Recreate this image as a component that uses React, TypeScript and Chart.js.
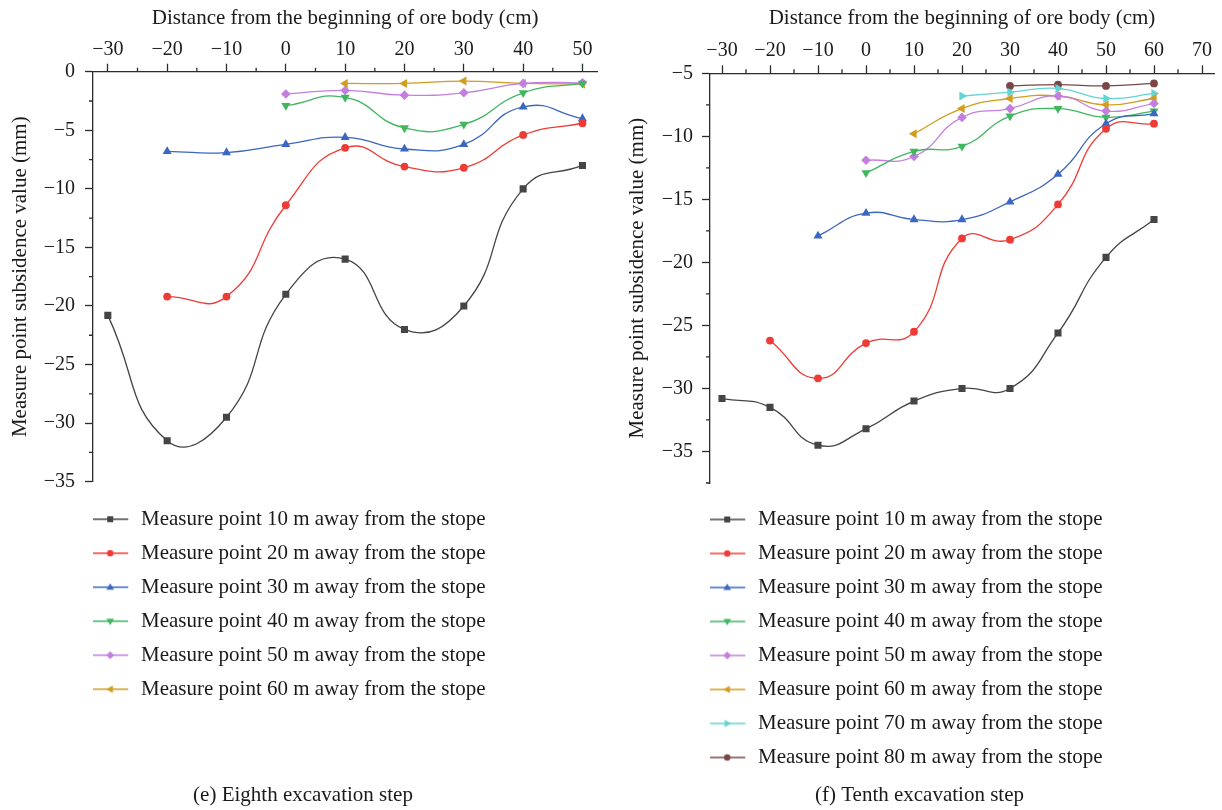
import React, { useEffect, useRef } from 'react';
import { Chart, registerables } from 'chart.js';

Chart.register(...registerables);

const FONT = "'Liberation Serif', 'Times New Roman', serif";
const TEXT = '#1a1a1a';
const AXIS = '#2b2b2b';

// ---------- series meta ----------
const seriesLabels = [
  'Measure point 10 m away from the stope',
  'Measure point 20 m away from the stope',
  'Measure point 30 m away from the stope',
  'Measure point 40 m away from the stope',
  'Measure point 50 m away from the stope',
  'Measure point 60 m away from the stope',
  'Measure point 70 m away from the stope',
  'Measure point 80 m away from the stope',
];
const seriesColors = ['#454545', '#ef3b36', '#3b66c2', '#40b65f', '#c27fe0', '#d29c1f', '#63d3d3', '#7b4646'];
const seriesPointStyles = ['rect', 'circle', 'triangle', 'triangle', 'rectRot', 'triangle', 'triangle', 'circle'];
const seriesRotations = [0, 0, 0, 180, 0, 270, 90, 0];
const seriesRadii = [5, 3.9, 5.2, 5.2, 4.8, 5.2, 5.2, 3.9];

// ---------- (e) Eighth excavation step ----------
const xE = [-30, -20, -10, 0, 10, 20, 30, 40, 50];
const e10 = [-20.8, -31.5, -29.5, -19.0, -16.0, -22.0, -20.0, -10.0, -8.0];
const e20 = [null, -19.2, -19.2, -11.4, -6.5, -8.1, -8.2, -5.4, -4.4];
const e30 = [null, -6.8, -6.9, -6.2, -5.6, -6.6, -6.2, -3.0, -4.0];
const e40 = [null, null, null, -2.9, -2.2, -4.8, -4.5, -1.8, -1.0];
const e50 = [null, null, null, -1.9, -1.6, -2.0, -1.8, -1.0, -0.95];
const e60 = [null, null, null, null, -1.0, -1.0, -0.8, -1.0, -1.05];
const xTicksE = [-30, -20, -10, 0, 10, 20, 30, 40, 50];
const yTicksE = [0, -5, -10, -15, -20, -25, -30, -35];

// ---------- (f) Tenth excavation step ----------
const xF = [-30, -20, -10, 0, 10, 20, 30, 40, 50, 60];
const f10 = [-30.8, -31.5, -34.5, -33.2, -31.0, -30.0, -30.0, -25.6, -19.6, -16.6];
const f20 = [null, -26.2, -29.2, -26.4, -25.5, -18.1, -18.2, -15.4, -9.4, -9.0];
const f30 = [null, null, -17.9, -16.1, -16.6, -16.6, -15.2, -13.0, -9.0, -8.2];
const f40 = [null, null, null, -12.9, -11.2, -10.8, -8.4, -7.8, -8.5, -8.0];
const f50 = [null, null, null, -11.9, -11.6, -8.5, -7.8, -6.8, -8.0, -7.4];
const f60 = [null, null, null, null, -9.8, -7.8, -7.0, -6.8, -7.5, -7.0];
const f70 = [null, null, null, null, null, -6.8, -6.5, -6.2, -7.0, -6.6];
const f80 = [null, null, null, null, null, null, -6.0, -5.9, -6.0, -5.8];
const xTicksF = [-30, -20, -10, 0, 10, 20, 30, 40, 50, 60, 70];
const yTicksF = [-5, -10, -15, -20, -25, -30, -35];

const xTitle = 'Distance from the beginning of ore body (cm)';
const yTitle = 'Measure point subsidence value (mm)';

type Panel = {
  left: number;
  xs: number[];
  series: (number | null)[][];
  xTicks: number[];
  yTicks: number[];
  xMin: number; xMax: number; yMin: number; yMax: number;
  xMinorStep: number; yMinorStep: number;
  caption: string;
  padL: number; padR: number; yWidth: number; xHeight: number;
  xTickPad: number; yTickPad: number; legendGap: number;
  capTop: number; capBottom: number; yTitlePad: number; xTitlePad: number;
};

const panels: Panel[] = [
  {
    left: 0, xs: xE, series: [e10, e20, e30, e40, e50, e60], xTicks: xTicksE, yTicks: yTicksE,
    xMin: -32.5, xMax: 52.5, yMin: -35, yMax: 0, xMinorStep: 5, yMinorStep: 2.5,
    caption: '(e) Eighth excavation step',
    padL: 8.7, padR: 13.7, yWidth: 84.3, xHeight: 71.7, xTickPad: 1.5, yTickPad: 10, legendGap: 14,
    capTop: 72.7, capBottom: 2.4, yTitlePad: 1, xTitlePad: 5.5,
  },
  {
    left: 611, xs: xF, series: [f10, f20, f30, f40, f50, f60, f70, f80], xTicks: xTicksF, yTicks: yTicksF,
    xMin: -32.5, xMax: 72.5, yMin: -37.5, yMax: -5, xMinorStep: 5, yMinorStep: 2.5,
    caption: '(f) Tenth excavation step',
    padL: 14, padR: 8, yWidth: 85, xHeight: 73.3, xTickPad: 3, yTickPad: 9, legendGap: 13,
    capTop: 4.4, capBottom: 2.4, yTitlePad: 1.5, xTitlePad: 6,
  },
];

const fmt = (v: number) => (v < 0 ? '\u2212' + Math.abs(v) : String(v));

function makeLegendImage(color: string, style: string, rotation: number): HTMLCanvasElement {
  const c = document.createElement('canvas');
  c.width = 52;
  c.height = 16;
  const g = c.getContext('2d')!;
  g.strokeStyle = color;
  g.lineWidth = 1.3;
  g.beginPath();
  g.moveTo(0, 8);
  g.lineTo(36, 8);
  g.stroke();
  g.fillStyle = color;
  g.save();
  g.translate(18, 8);
  g.rotate((rotation * Math.PI) / 180);
  g.beginPath();
  if (style === 'rect') g.rect(-3, -3, 6, 6);
  else if (style === 'circle') g.arc(0, 0, 3.2, 0, Math.PI * 2);
  else if (style === 'triangle') {
    g.moveTo(0, -4);
    g.lineTo(3.8, 2.6);
    g.lineTo(-3.8, 2.6);
    g.closePath();
  } else {
    g.moveTo(0, -4);
    g.lineTo(4, 0);
    g.lineTo(0, 4);
    g.lineTo(-4, 0);
    g.closePath();
  }
  g.fill();
  g.restore();
  return c;
}

function buildConfig(p: Panel): any {
  const datasets = p.series.map((vals, i) => ({
    label: seriesLabels[i],
    data: p.xs
      .map((x, j) => ({ x, y: vals[j] }))
      .filter((pt) => pt.y !== null),
    borderColor: seriesColors[i],
    backgroundColor: seriesColors[i],
    pointBackgroundColor: seriesColors[i],
    pointBorderWidth: 0,
    pointStyle: seriesPointStyles[i],
    rotation: seriesRotations[i],
    pointRadius: seriesRadii[i],
    borderWidth: 1.3,
    tension: 0.5,
    cubicInterpolationMode: 'default',
    fill: false,
  }));

  const legendImages = p.series.map((_, i) =>
    makeLegendImage(seriesColors[i], seriesPointStyles[i], seriesRotations[i])
  );

  const minorTicks = {
    id: 'minorTicks',
    afterDraw(chart: any) {
      const ctx = chart.ctx;
      const xs = chart.scales.x;
      const ys = chart.scales.y;
      const area = chart.chartArea;
      ctx.save();
      ctx.strokeStyle = AXIS;
      ctx.lineWidth = 1.3;
      ctx.beginPath();
      const x0 = Math.ceil(p.xMin / p.xMinorStep) * p.xMinorStep;
      for (let v = x0; v <= p.xMax + 1e-9; v += p.xMinorStep) {
        if (Math.abs(v % 10) < 1e-9) continue;
        const px = xs.getPixelForValue(v);
        ctx.moveTo(px, area.top);
        ctx.lineTo(px, area.top - 4);
      }
      const y0 = Math.ceil(p.yMin / p.yMinorStep) * p.yMinorStep;
      for (let v = y0; v <= p.yMax + 1e-9; v += p.yMinorStep) {
        if (Math.abs(v % 5) < 1e-9) continue;
        const py = ys.getPixelForValue(v);
        ctx.moveTo(area.left, py);
        ctx.lineTo(area.left - 4, py);
      }
      ctx.stroke();
      ctx.restore();
    },
  };

  return {
    type: 'line',
    data: { datasets },
    plugins: [minorTicks],
    options: {
      animation: false,
      responsive: false,
      maintainAspectRatio: false,
      color: TEXT,
      layout: { padding: { left: p.padL, right: p.padR, top: 0, bottom: 0 } },
      plugins: {
        tooltip: { enabled: false },
        legend: {
          display: true,
          position: 'bottom',
          align: 'start',
          fullSize: false,
          title: { display: true, text: '', padding: 0, font: { size: p.legendGap, lineHeight: 1 } },
          labels: {
            usePointStyle: true,
            pointStyleWidth: 24.5,
            padding: 13,
            color: TEXT,
            font: { family: FONT, size: 21 },
            generateLabels: (chart: any) =>
              chart.data.datasets.map((ds: any, i: number) => ({
                text: ds.label,
                pointStyle: legendImages[i],
                fillStyle: ds.borderColor,
                strokeStyle: ds.borderColor,
                fontColor: TEXT,
                lineWidth: 0,
                hidden: false,
                datasetIndex: i,
              })),
          },
        },
        title: {
          display: true,
          position: 'bottom',
          text: p.caption,
          color: TEXT,
          font: { family: FONT, size: 21, weight: 'normal', lineHeight: 1.2 },
          padding: { top: p.capTop, bottom: p.capBottom },
        },
      },
      scales: {
        x: {
          type: 'linear',
          position: 'top',
          min: p.xMin,
          max: p.xMax,
          afterBuildTicks: (s: any) => {
            s.ticks = p.xTicks.map((v) => ({ value: v }));
          },
          afterFit: (s: any) => {
            s.height = p.xHeight;
          },
          ticks: {
            callback: (v: any) => fmt(Number(v)),
            color: TEXT,
            font: { family: FONT, size: 20 },
            padding: p.xTickPad,
            maxRotation: 0,
            autoSkip: false,
          },
          grid: {
            drawOnChartArea: false,
            drawTicks: true,
            tickLength: 8,
            tickWidth: 1.3,
            tickColor: AXIS,
            color: AXIS,
          },
          border: { display: true, color: AXIS, width: 1.3 },
          title: {
            display: true,
            text: xTitle,
            color: TEXT,
            font: { family: FONT, size: 21, lineHeight: 1.2 },
            padding: { top: p.xTitlePad, bottom: 0 },
          },
        },
        y: {
          type: 'linear',
          position: 'left',
          min: p.yMin,
          max: p.yMax,
          afterBuildTicks: (s: any) => {
            s.ticks = p.yTicks.map((v) => ({ value: v }));
          },
          afterFit: (s: any) => {
            s.width = p.yWidth;
          },
          ticks: {
            callback: (v: any) => fmt(Number(v)),
            color: TEXT,
            font: { family: FONT, size: 20 },
            padding: p.yTickPad,
            autoSkip: false,
          },
          grid: {
            drawOnChartArea: false,
            drawTicks: true,
            tickLength: 8,
            tickWidth: 1.3,
            tickColor: AXIS,
            color: AXIS,
          },
          border: { display: true, color: AXIS, width: 1.3 },
          title: {
            display: true,
            text: yTitle,
            color: TEXT,
            font: { family: FONT, size: 21, lineHeight: 1 },
            padding: { top: p.yTitlePad, bottom: 0 },
          },
        },
      },
    },
  };
}

function PanelChart({ panel }: { panel: Panel }) {
  const ref = useRef<HTMLCanvasElement | null>(null);
  useEffect(() => {
    if (!ref.current) return;
    const chart = new Chart(ref.current, buildConfig(panel));
    return () => chart.destroy();
  }, [panel]);
  return (
    <canvas
      ref={ref}
      width={611}
      height={810}
      style={{ position: 'absolute', left: panel.left, top: 0, width: 611, height: 810 }}
    />
  );
}

export default function App() {
  return (
    <div style={{ position: 'absolute', left: 0, top: 0, width: 1222, height: 810, background: '#fff' }}>
      {panels.map((p, i) => (
        <PanelChart key={i} panel={p} />
      ))}
    </div>
  );
}
